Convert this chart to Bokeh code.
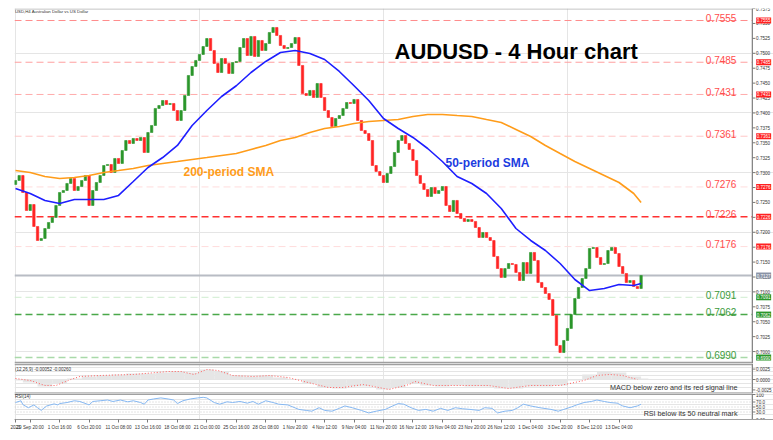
from bokeh.plotting import figure
from bokeh.layouts import column
from bokeh.models import (Range1d, LinearAxis, FixedTicker, Label, ColumnDataSource)
from bokeh.core.properties import value
from bokeh.embed import file_html
from bokeh.resources import INLINE

# ---------------- data ----------------
first_open = 0.7280
closes = [
    0.72868, 0.72952, 0.72667, 0.72365, 0.72465, 0.72097, 0.71862, 0.71896, 0.72063, 0.72164,
    0.72248, 0.72449, 0.72667, 0.72700, 0.72818, 0.72901, 0.72700, 0.72767, 0.72868, 0.72952,
    0.72449, 0.72700, 0.72834, 0.72952, 0.73119, 0.73136, 0.73002, 0.73237, 0.73153, 0.73371,
    0.73538, 0.73488, 0.73572, 0.73538, 0.73589, 0.73337, 0.73672, 0.73790, 0.74075, 0.74125,
    0.74209, 0.74142, 0.74159, 0.74041, 0.73874, 0.74041, 0.74293, 0.74628, 0.74779, 0.74880,
    0.74980, 0.75114, 0.75248, 0.75047, 0.74829, 0.74678, 0.74913, 0.74829, 0.74662, 0.74846,
    0.74863, 0.75097, 0.75248, 0.74963, 0.75282, 0.74947, 0.75215, 0.75047, 0.75164, 0.75349,
    0.75433, 0.75299, 0.75131, 0.75081, 0.75097, 0.75164, 0.75265, 0.74796, 0.74326, 0.74293,
    0.74377, 0.74259, 0.74494, 0.74259, 0.74041, 0.73924, 0.73773, 0.73907, 0.73957, 0.74075,
    0.74175, 0.74159, 0.74226, 0.73874, 0.73706, 0.73656, 0.73538, 0.73119, 0.73019, 0.72952,
    0.72834, 0.72985, 0.73102, 0.73337, 0.73538, 0.73622, 0.73488, 0.73388, 0.73203, 0.72952,
    0.72818, 0.72717, 0.72600, 0.72750, 0.72650, 0.72700, 0.72767, 0.72449, 0.72348, 0.72533,
    0.72315, 0.72231, 0.72181, 0.72214, 0.72181, 0.72080, 0.71912, 0.71996, 0.71912, 0.71862,
    0.71594, 0.71392, 0.71242, 0.71392, 0.71476, 0.71460, 0.71326, 0.71191, 0.71493, 0.71309,
    0.71661, 0.71527, 0.71158, 0.71074, 0.70973, 0.70873, 0.70605, 0.70102, 0.69984, 0.70186,
    0.70387, 0.70621, 0.70890, 0.71074, 0.71225, 0.71392, 0.71728, 0.71745, 0.71577, 0.71460,
    0.71476, 0.71694, 0.71745, 0.71644, 0.71426, 0.71309, 0.71158, 0.71191, 0.71091, 0.71057,
    0.71275,
]
candle_idx = [2 * k for k in range(len(closes))]   # 4H bar numbers

sma_idx = [0, 8, 16, 24, 32, 40, 48, 56, 64, 72, 80, 88, 96, 104, 112, 120, 128, 136, 144, 152,
           160, 168, 176, 184, 192, 200, 208, 216, 224, 232, 240, 248, 256, 264, 272, 280, 288,
           296, 304, 312, 320, 328, 336, 340]
sma50 = [0.72734, 0.72650, 0.72533, 0.72482, 0.72550, 0.72550, 0.72550, 0.72617, 0.72851, 0.73086,
         0.73253, 0.73455, 0.73790, 0.74041, 0.74276, 0.74456, 0.74678, 0.74863, 0.75014, 0.75047,
         0.74997, 0.74896, 0.74695, 0.74456, 0.74209, 0.73907, 0.73740, 0.73589, 0.73404, 0.73186,
         0.72935, 0.72818, 0.72650, 0.72398, 0.72063, 0.71862, 0.71694, 0.71476, 0.71208, 0.71023,
         0.71057, 0.71124, 0.71107, 0.71141]
sma200 = [0.73035, 0.73002, 0.72935, 0.72901, 0.72918, 0.72952, 0.73002, 0.73035, 0.73069, 0.73119,
          0.73153, 0.73186, 0.73220, 0.73253, 0.73287, 0.73320, 0.73387, 0.73455, 0.73538, 0.73589,
          0.73672, 0.73740, 0.73773, 0.73823, 0.73857, 0.73874, 0.73890, 0.73941, 0.73974, 0.73974,
          0.73957, 0.73941, 0.73890, 0.73840, 0.73723, 0.73605, 0.73455, 0.73320, 0.73186, 0.73069,
          0.72952, 0.72834, 0.72650, 0.72499]

macd_hist = [-0.00024, -0.00072, -0.00168, -0.00096, 0.00024, 0.00072, 0.00096, 0.00120, 0.00144,
             0.00144, 0.00168, 0.00192, 0.00168, 0.00240, 0.00192, 0.00096, 0.00072, 0.00096,
             0.00048, 0.00000, -0.00096, -0.00192, -0.00216, -0.00168, -0.00168, -0.00240,
             -0.00192, -0.00096, -0.00144, -0.00168, -0.00144, -0.00168, -0.00168, -0.00216,
             -0.00216, -0.00168, -0.00168, -0.00144, -0.00024, 0.00120, 0.00192, 0.00168,
             0.00072, 0.00024]
sig_idx = [0, 8, 16, 22, 30, 35, 46, 64, 83, 90, 97, 104, 110, 118, 129, 138, 148, 159, 170, 178,
           189, 203, 214, 217, 227, 239, 257, 268, 280, 296, 309, 316, 323, 330, 338]
macd_signal = [0.00024, -0.00024, -0.00144, -0.00144, 0.00000, 0.00072, 0.00096, 0.00120, 0.00192,
               0.00192, 0.00120, 0.00240, 0.00216, 0.00096, 0.00072, 0.00096, 0.00048, -0.00072,
               -0.00192, -0.00192, -0.00120, -0.00240, -0.00120, -0.00048, -0.00144, -0.00144,
               -0.00144, -0.00216, -0.00144, -0.00144, -0.00024, 0.00096, 0.00120, 0.00096, 0.00000]

rsi_idx = [0, 3, 4, 7, 10, 12, 14, 15, 17, 21, 23, 24, 28, 32, 35, 39, 40, 42, 46, 50, 53, 57, 61,
           64, 68, 70, 72, 75, 79, 83, 86, 88, 91, 95, 99, 102, 104, 108, 111, 115, 118, 122, 126,
           129, 132, 136, 140, 143, 148, 154, 158, 161, 165, 168, 172, 176, 179, 183, 188, 192,
           196, 201, 205, 208, 211, 215, 219, 223, 227, 231, 235, 239, 243, 247, 252, 255, 259,
           262, 266, 270, 273, 276, 280, 285, 291, 295, 298, 302, 305, 309, 313, 316, 320, 323,
           327, 330, 334, 338, 340]
rsi_vals = [67.9, 75.0, 59.6, 47.1, 58.3, 47.1, 36.3, 42.9, 54.2, 62.5, 58.3, 63.7, 67.9, 75.0,
            72.1, 61.2, 58.3, 72.1, 75.0, 77.9, 72.1, 77.9, 70.8, 75.0, 67.9, 61.2, 77.9, 82.1,
            86.3, 82.1, 77.9, 63.7, 75.0, 82.1, 86.3, 88.7, 86.3, 67.9, 61.2, 70.8, 67.9, 72.1,
            65.4, 72.1, 61.2, 75.0, 67.9, 61.2, 58.3, 40.4, 36.3, 33.3, 47.1, 36.3, 33.3, 44.6,
            54.2, 47.1, 36.3, 26.3, 33.3, 40.4, 54.2, 63.7, 61.2, 47.1, 36.3, 40.4, 33.3, 44.6,
            36.3, 47.1, 42.9, 40.4, 36.3, 47.1, 44.6, 26.3, 33.3, 36.3, 47.1, 61.2, 54.2, 47.1,
            40.4, 33.3, 40.4, 50.0, 58.3, 67.9, 72.1, 77.9, 72.1, 67.9, 65.4, 54.2, 47.1, 54.2,
            61.2]

res_levels = [0.7555, 0.7485, 0.7431, 0.7361, 0.7276, 0.7226, 0.7176]
sup_levels = [0.7091, 0.7062, 0.6990]
last_price = 0.71275

price_ticks = [0.7000, 0.7025, 0.7050, 0.7075, 0.7100, 0.7125, 0.7150, 0.7175, 0.7200, 0.7225,
               0.7250, 0.7275, 0.7300, 0.7325, 0.7350, 0.7375, 0.7400, 0.7425, 0.7450, 0.7475,
               0.7500, 0.7525, 0.7550, 0.7575]
macd_ticks = [0.0025, 0.0, -0.0025]
macd_tick_labels = ["0.0025", "0.0000", "-0.0025"]
rsi_ticks = [100, 70, 50, 30, 0]
rsi_tick_labels = ["100", "70.0", "50.0", "30.0", "0.00"]

date_idx = [0, 8, 24, 40, 56, 72, 88, 104, 120, 136, 152, 168, 184, 200, 216, 232, 248, 264,
            280, 296, 312, 328]
date_labels = ["2021", "29 Sep 20:00", "1 Oct 16:00", "6 Oct 20:00", "11 Oct 08:00",
               "13 Oct 16:00", "18 Oct 08:00", "21 Oct 00:00", "25 Oct 16:00", "28 Oct 08:00",
               "1 Nov 20:00", "4 Nov 12:00", "9 Nov 04:00", "11 Nov 20:00", "16 Nov 12:00",
               "19 Nov 04:00", "23 Nov 20:00", "26 Nov 12:00", "1 Dec 04:00", "3 Dec 20:00",
               "8 Dec 12:00", "13 Dec 04:00"]

# ---------------- styling ----------------
FONT = "Liberation Sans"
UP, DOWN = "#2b962b", "#ff2424"
BLUE, ORANGE = "#1e1eff", "#ff9c1a"
RED_TXT, GREEN_TXT = "#ff4d4d", "#3d9b3d"
res_colors = ["#ff8c8c", "#ff9f9f", "#ffabab", "#ffc6c6", "#ffdcdc", "#ff3030", "#ffdcdc"]
res_widths = [1, 1, 1, 1, 1, 1.6, 1]
sup_colors = ["#cfeccf", "#4aa84a", "#a9d9a9"]
sup_widths = [1, 1.5, 1.5]

X0, AX, X1 = -0.54, 400.5, 411.96      # frame left, price-scale line, frame right (bar units)
xr = Range1d(X0, X1)
LABEL_X = 391.8      # right edge of level captions
TICK_LEN = 1.6       # 3 px
BOX_X = 406.6        # centre of the price boxes
AXIS_GRAY = "#7a7a7a"


def base_fig(h, yr, top=0):
    f = figure(frame_width=759, frame_height=h, x_range=xr, y_range=yr,
               output_backend="svg", toolbar_location=None,
               x_axis_location=None, y_axis_location=None,
               min_border_left=14, min_border_right=0, min_border_top=top, min_border_bottom=0)
    f.outline_line_color = None
    f.background_fill_color = "white"
    f.border_fill_color = "white"
    return f


def price_scale(f, ticks, labels, yr):
    f.segment(x0=AX, x1=AX, y0=yr.start, y1=yr.end, line_color=AXIS_GRAY, line_width=1)
    f.segment(x0=AX, x1=AX + TICK_LEN, y0=ticks, y1=ticks, line_color=AXIS_GRAY, line_width=1)
    f.text(x=AX + TICK_LEN + 0.4, y=ticks, text=labels, text_font=value(FONT),
           text_font_size="4.6px", text_color="#333333", text_baseline="middle",
           text_align="left")


def hline(f, y, color, width, dash="solid"):
    f.segment(x0=X0, x1=AX, y0=y, y1=y, line_color=color, line_width=width, line_dash=dash)


# ---------------- main price panel ----------------
yr_main = Range1d(0.69800, 0.75751)
p = base_fig(355, yr_main, top=8)

for lv, c, w in zip(res_levels, res_colors, res_widths):
    hline(p, lv, c, w, "7 4")
for lv, c, w in zip(sup_levels, sup_colors, sup_widths):
    hline(p, lv, c, w, "7 4")
hline(p, last_price, "#b8bcc4", 2)
hline(p, 0.75743, "#b0b0b0", 1)
hline(p, 0.69817, "#a0a0a0", 1.5)

opens = [first_open] + closes[:-1]
csrc = ColumnDataSource(dict(
    x=candle_idx,
    top=[max(o, c) for o, c in zip(opens, closes)],
    bottom=[min(o, c) for o, c in zip(opens, closes)],
    color=[UP if c >= o else DOWN for o, c in zip(opens, closes)],
))
p.vbar(x="x", top="top", bottom="bottom", width=1.3, fill_color="color",
       line_color="color", line_width=0.6, source=csrc)

p.line(sma_idx, sma200, line_color=ORANGE, line_width=1.6)
p.line(sma_idx, sma50, line_color=BLUE, line_width=1.6)

all_levels = res_levels + sup_levels
lvl_src = ColumnDataSource(dict(
    y=all_levels,
    text=["%.4f" % v for v in all_levels],
    color=[RED_TXT] * len(res_levels) + [GREEN_TXT] * len(sup_levels),
))
p.text(x=LABEL_X, y="y", text="text", text_color="color", source=lvl_src,
       text_font=value(FONT), text_font_size="10px", text_align="right",
       text_baseline="alphabetic", y_offset=-2.5)

price_scale(p, price_ticks, ["%.4f" % t for t in price_ticks], yr_main)

# price boxes on the scale
box_src = ColumnDataSource(dict(
    y=all_levels + [last_price],
    text=["%.4f" % v for v in all_levels + [last_price]],
    color=["#ff2020"] * len(res_levels) + ["#2b962b"] * len(sup_levels) + ["#8a93a6"],
))
p.rect(x=BOX_X, y="y", width=15, height=6, width_units="screen", height_units="screen",
       fill_color="color", line_color=None, source=box_src)
p.text(x=BOX_X, y="y", text="text", text_color="white", source=box_src,
       text_font=value(FONT), text_font_size="4.5px", text_align="center",
       text_baseline="middle")

p.add_layout(Label(x=-0.3, y=0.75701, text="USD,H4  Australian Dollar vs US Dollar",
                   text_font=FONT, text_font_size="4.3px", text_color="#333333",
                   text_baseline="middle"))
p.add_layout(Label(x=206.0, y=0.75030, text="AUDUSD - 4 Hour chart", text_font=FONT,
                   text_font_size="22px", text_font_style="bold", text_color="black",
                   text_baseline="alphabetic"))
p.add_layout(Label(x=91.3, y=0.73007, text="200-period SMA", text_font=FONT,
                   text_font_size="12px", text_font_style="bold", text_color=ORANGE,
                   text_baseline="alphabetic"))
p.add_layout(Label(x=233.7, y=0.73158, text="50-period SMA", text_font=FONT,
                   text_font_size="12px", text_font_style="bold", text_color="#1c3ce0",
                   text_baseline="alphabetic"))

# ---------------- MACD panel ----------------
yr_macd = Range1d(-0.00336, 0.00384)
m = base_fig(30, yr_macd)
m.vbar(x=sma_idx, top=macd_hist, bottom=0, width=8, fill_color="#e6e6e6", line_color=None)
m.line(sig_idx, macd_signal, line_color="#ff5a5a", line_dash="1 2", line_width=1)
hline(m, 0.00366, "#a0a0a0", 2)
hline(m, -0.00324, "#a0a0a0", 1)
price_scale(m, macd_ticks, macd_tick_labels, yr_macd)
m.add_layout(Label(x=-0.3, y=0.0024, text="(12,26,9) -0.00052 -0.00260", text_font=FONT,
                   text_font_size="4.5px", text_color="#333333", text_baseline="middle"))
m.add_layout(Label(x=392.4, y=-0.00192, text="MACD below zero and its red signal line",
                   text_font=FONT, text_font_size="7.2px", text_color="#333333",
                   text_baseline="middle", text_align="right"))

# ---------------- RSI panel ----------------
yr_rsi = Range1d(0, 104)
r = base_fig(26, yr_rsi)
for lv in (70, 50, 30):
    hline(r, lv, "#c8c8c8", 1, "1 2")
r.line(rsi_idx, rsi_vals, line_color="#86b8f2", line_width=1)
hline(r, 102, "#a0a0a0", 2)
price_scale(r, rsi_ticks, rsi_tick_labels, yr_rsi)
r.add_layout(Label(x=-0.3, y=92, text="RSI(14)", text_font=FONT, text_font_size="4.5px",
                   text_color="#333333", text_baseline="middle"))
r.add_layout(Label(x=392.4, y=26, text="RSI below its 50 neutral mark", text_font=FONT,
                   text_font_size="7.2px", text_color="#333333", text_baseline="middle",
                   text_align="right"))

xax = LinearAxis(ticker=FixedTicker(ticks=date_idx),
                 major_label_overrides={i: t for i, t in zip(date_idx, date_labels)})
xax.major_label_text_align = "left"
xax.major_label_text_font = FONT
xax.major_label_text_font_size = "4.6px"
xax.major_label_text_color = "#333333"
xax.major_label_standoff = 2
xax.major_tick_out = 3
xax.major_tick_in = 0
xax.minor_tick_line_color = None
xax.axis_line_color = "#a0a0a0"
xax.major_tick_line_color = AXIS_GRAY
r.add_layout(xax, "below")

layout = column(p, m, r)
open("out.html", "w").write(file_html(layout, INLINE))
